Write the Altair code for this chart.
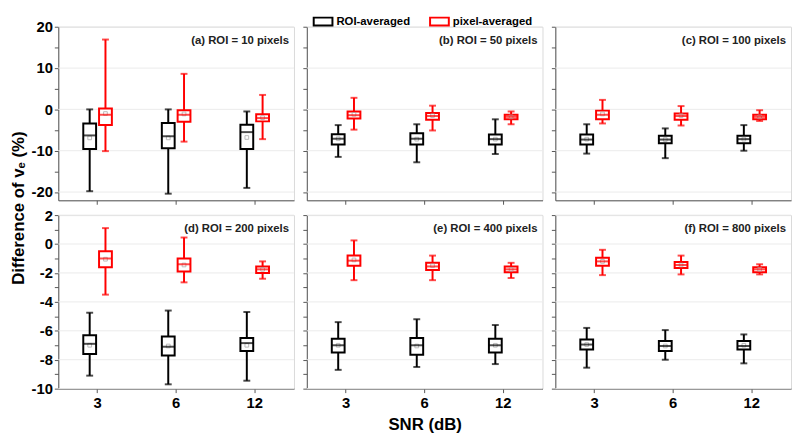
import altair as alt
import pandas as pd

snr = ["3", "6", "12"]
panel_ids = ["a", "b", "c", "d", "e", "f"]
panel_labels = ["(a) ROI = 10 pixels", "(b) ROI = 50 pixels", "(c) ROI = 100 pixels",
                "(d) ROI = 200 pixels", "(e) ROI = 400 pixels", "(f) ROI = 800 pixels"]
groups = ["ROI-averaged", "pixel-averaged"]
colors = ["#000000", "#ff0000"]

# ROI-averaged stats, [panel][SNR 3, 6, 12]
roi_max = [[0.0, 0.0, -0.5], [-3.8, -3.6, -2.4], [-3.6, -4.6, -3.8],
           [-4.75, -4.6, -4.7], [-5.4, -5.2, -5.6], [-5.8, -5.95, -6.25]]
roi_q3 = [[-3.4, -3.3, -3.7], [-6.0, -5.8, -6.1], [-6.1, -6.4, -6.4],
          [-6.3, -6.4, -6.5], [-6.55, -6.5, -6.55], [-6.6, -6.7, -6.7]]
roi_med = [[-6.3, -6.5, -5.5], [-7.1, -7.1, -7.2], [-7.3, -7.3, -7.2],
           [-6.9, -7.1, -6.85], [-7.0, -7.0, -7.0], [-6.95, -7.05, -7.05]]
roi_q1 = [[-9.6, -9.4, -9.6], [-8.5, -8.5, -8.5], [-8.5, -8.2, -8.2],
          [-7.6, -7.7, -7.4], [-7.5, -7.65, -7.5], [-7.3, -7.4, -7.3]]
roi_min = [[-19.8, -20.4, -19.0], [-11.5, -12.8, -10.8], [-10.7, -11.8, -10.0],
           [-9.1, -9.7, -9.45], [-8.7, -8.5, -8.3], [-8.55, -8.0, -8.25]]
roi_mean = [[-6.9, -6.9, -6.8], [-7.1, -7.2, -7.2], [-7.2, -7.3, -7.2],
            [-7.0, -7.05, -7.0], [-7.0, -7.05, -7.0], [-6.95, -7.05, -7.0]]

# pixel-averaged stats, [panel][SNR 3, 6, 12]
pix_max = [[16.9, 8.6, 3.5], [2.8, 0.9, -0.5], [2.3, 0.8, -0.2],
           [1.1, 0.45, -1.2], [0.25, -0.8, -1.3], [-0.4, -0.8, -1.4]]
pix_q3 = [[0.2, -0.2, -1.2], [-0.5, -0.9, -1.3], [-0.3, -1.0, -1.3],
          [-0.5, -1.0, -1.55], [-0.8, -1.3, -1.55], [-0.95, -1.25, -1.6]]
pix_med = [[-1.3, -1.3, -2.1], [-1.4, -1.6, -1.8], [-1.3, -1.6, -1.8],
           [-1.0, -1.4, -1.75], [-1.15, -1.55, -1.75], [-1.2, -1.45, -1.75]]
pix_q1 = [[-3.8, -3.0, -2.9], [-2.2, -2.5, -2.4], [-2.4, -2.5, -2.4],
          [-1.6, -1.9, -2.0], [-1.5, -1.8, -1.95], [-1.5, -1.65, -1.95]]
pix_min = [[-10.1, -7.8, -7.2], [-4.9, -5.1, -3.6], [-3.4, -3.9, -2.8],
           [-3.5, -2.65, -2.4], [-2.5, -2.5, -2.35], [-2.15, -2.1, -2.1]]
pix_mean = [[-1.0, -1.1, -2.0], [-1.2, -1.5, -1.8], [-1.1, -1.5, -1.8],
            [-1.05, -1.45, -1.75], [-1.1, -1.5, -1.75], [-1.2, -1.45, -1.75]]

top_ticks = [-20, -15, -10, -5, 0, 5, 10, 15, 20]
top_grid = [-20, -10, 0, 10, 20]
top_domain = [-22, 20]
bot_ticks = [-10, -9, -8, -7, -6, -5, -4, -3, -2, -1, 0, 1, 2]
bot_grid = [-10, -8, -6, -4, -2, 0, 2]
bot_domain = [-10, 2]

rows = []
for pi, p in enumerate(panel_ids):
    for si, s in enumerate(snr):
        rows.append(dict(panel=p, snr=s, group=groups[0], mn=roi_min[pi][si], q1=roi_q1[pi][si],
                         med=roi_med[pi][si], q3=roi_q3[pi][si], mx=roi_max[pi][si], mean=roi_mean[pi][si]))
        rows.append(dict(panel=p, snr=s, group=groups[1], mn=pix_min[pi][si], q1=pix_q1[pi][si],
                         med=pix_med[pi][si], q3=pix_q3[pi][si], mx=pix_max[pi][si], mean=pix_mean[pi][si]))
df = pd.DataFrame(rows)

W, H = 239, 176
HSP, VSP = 13, 15
FONT = "Liberation Sans"

legend = alt.Legend(orient="none", legendX=258, legendY=-16, direction="horizontal", title=None,
                    symbolType="M-1,-0.42L1,-0.42L1,0.42L-1,0.42Z", symbolSize=361,
                    symbolStrokeWidth=2, symbolFillColor="white", labelFont=FONT,
                    labelFontSize=11.5, labelFontWeight="bold", labelColor="black",
                    columnPadding=16, labelOffset=3)
stroke_enc = alt.Stroke("group:N", scale=alt.Scale(domain=groups, range=colors), legend=legend)


def panel(pi, row, col):
    p = panel_ids[pi]
    d = df[df.panel == p]
    if row == 0:
        ticks, grid, dom, mod = top_ticks, top_grid, top_domain, 10
    else:
        ticks, grid, dom, mod = bot_ticks, bot_grid, bot_domain, 2
    yax = dict(values=ticks, grid=False, tickSize=4)
    if col == 0:
        yax["labelExpr"] = "datum.value %% %d == 0 ? '' + datum.value : ''" % mod
        yax["labelPadding"] = 2
    else:
        yax["labels"] = False
    ytitle = None
    if row == 0 and col == 0:
        ytitle = "Difference of v\u2091 (%)"
        yax["titleY"] = H + VSP / 2
        yax["titlePadding"] = 4
    yaxis = alt.Axis(**yax)
    yscale = alt.Scale(domain=dom, nice=False, zero=False)

    xax = dict(tickSize=4, labelAngle=0, grid=False)
    if row == 0:
        xax["labels"] = False
    else:
        xax["labelPadding"] = 3
        xax["titlePadding"] = 6
    xtitle = "SNR (dB)" if (row == 1 and col == 1) else None
    xaxis = alt.Axis(**xax)
    xscale = alt.Scale(type="band", domain=snr, paddingInner=0, paddingOuter=0)

    def X():
        return alt.X("snr:O", scale=xscale, axis=xaxis, title=xtitle)

    def Y(f):
        return alt.Y(f + ":Q", scale=yscale, axis=yaxis, title=ytitle)

    layers = []
    gdf = pd.DataFrame({"v": grid})
    layers.append(alt.Chart(gdf).mark_rule(color="#ebebeb", strokeWidth=1).encode(y=Y("v")))
    for gi, g in enumerate(groups):
        dd = d[d.group == g]
        dx = -8 if gi == 0 else 8
        c = colors[gi]
        base = alt.Chart(dd)
        layers.append(base.mark_rule(xOffset=dx, color=c, strokeWidth=2).encode(
            x=X(), y=Y("mn"), y2=alt.Y2("mx")))
        layers.append(base.mark_tick(xOffset=dx, color=c, size=7, thickness=2).encode(x=X(), y=Y("mn")))
        layers.append(base.mark_tick(xOffset=dx, color=c, size=7, thickness=2).encode(x=X(), y=Y("mx")))
        layers.append(base.mark_bar(xOffset=dx, size=13, fill="white", strokeWidth=2).encode(
            x=X(), y=Y("q1"), y2=alt.Y2("q3"), stroke=stroke_enc))
        layers.append(base.mark_point(xOffset=dx, shape="square", size=14, color="#a0a0a0",
                                      strokeWidth=1, filled=False).encode(x=X(), y=Y("mean")))
        layers.append(base.mark_tick(xOffset=dx, color=c, size=13, thickness=2).encode(x=X(), y=Y("med")))
    tdf = pd.DataFrame({"label": [panel_labels[pi]]})
    layers.append(alt.Chart(tdf).mark_text(align="right", baseline="top", font=FONT, fontSize=11.5,
                                            fontWeight="bold", color="#222222").encode(
        x=alt.value(W - 5), y=alt.value(8), text="label:N"))
    return alt.layer(*layers).properties(width=W, height=H)


panels = [panel(i, i // 3, i % 3) for i in range(6)]

chart = alt.concat(*panels, columns=3, spacing={"row": VSP, "column": HSP}, bounds="flush").resolve_scale(
    y="independent", x="independent", stroke="shared"
).resolve_axis(y="independent", x="independent").properties(
    padding={"left": 0, "right": 0, "top": 0, "bottom": 0}
).configure_view(
    stroke="#d9d9d9"
).configure_axis(
    domainColor="#555555", tickColor="#555555", labelFont=FONT, titleFont=FONT,
    labelFontWeight="bold", titleFontWeight="bold", labelFontSize=15, titleFontSize=17,
    labelColor="black", titleColor="black"
)

chart.save("out.html", embed_options={"renderer": "svg", "actions": False})
